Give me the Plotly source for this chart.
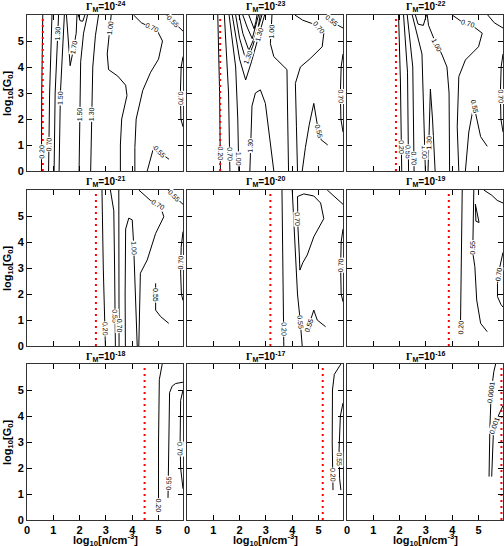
"""Contour grid: 3x3 panels of log10[G0] vs log10[n/cm^-3] for several Gamma_M"""

import numpy as np
import plotly.graph_objects as go

# Gamma_M exponent of each panel and position of the red dotted line
gamma_exp = [-24, -23, -22, -21, -20, -19, -18, -17, -16]
red_x = [0.60, 1.26, 1.86, 2.62, 3.17, 3.87, 4.47, 5.16, 5.87]

x_ticks = [0, 1, 2, 3, 4, 5]
y_ticks = [0, 1, 2, 3, 4, 5]

# contour lines per panel: (label, x values, y values, label positions along the line)
g24_lines = [
    ("0.20", [0.55, 0.56, 0.60], [0, 3, 6], [0.12]),
    ("0.70", [0.82, 0.86, 0.95], [0, 3, 6], [0.17]),
    ("1.30", [1.03, 1.07, 1.20], [0, 3, 6], [0.88]),
    ("1.50", [1.22, 1.27, 1.42], [0, 3, 6], [0.47]),
    ("1.70", [1.50, 1.56, 1.64, 1.75, 1.87, 1.90], [6, 5, 4.05, 4.6, 5.3, 6], [0.68]),
    ("1.70", [1.95, 2.02, 2.12, 2.20], [6, 5.78, 5.76, 6], []),
    ("1.50", [1.98, 2.00, 2.04, 2.15, 2.30], [0, 2, 4.2, 5.3, 6], [0.36]),
    ("1.30", [2.42, 2.45, 2.50, 2.60, 2.72], [0, 2, 4, 5.2, 6], [0.36]),
    ("1.00", [3.20, 3.12, 3.05, 3.10, 3.45, 3.75, 3.80, 3.60, 3.55, 3.55],
     [6, 5.3, 4.5, 3.9, 3.65, 3.3, 2.9, 2.0, 1.0, 0], [0.08]),
    ("0.70", [4.05, 4.35, 4.65, 4.95, 5.15, 5.00, 4.70, 4.40, 4.15, 4.10, 4.10],
     [6, 5.7, 5.55, 5.4, 5.0, 4.3, 3.8, 3.1, 2.0, 0.9, 0], [0.13]),
    ("0.55", [5.30, 5.55, 5.80, 5.93], [6, 5.75, 5.5, 5.38], [0.4]),
    ("0.55", [4.57, 4.70, 4.82, 5.00, 5.20, 5.40], [0, 0.5, 0.93, 0.8, 0.6, 0.45], [0.72]),
    ("0.70", [5.93, 5.86, 5.83, 5.85, 5.93], [4.4, 4.0, 3.0, 2.0, 1.7], [0.6]),
]

g23_lines = [
    ("0.20", [1.27, 1.24, 1.17], [0, 3, 6], [0.11]),
    ("0.70", [1.63, 1.58, 1.42], [0, 3, 6], [0.11]),
    ("1.00", [1.97, 1.93, 1.85, 1.70, 1.60], [0, 2, 4, 5.2, 6], [0.08]),
    ("1.30", [1.72, 1.85, 2.00, 2.23, 2.45, 2.70, 2.95], [6, 5.2, 4.3, 3.5, 4.2, 5.1, 6], [0.85]),
    ("1.30", [1.85, 2.00, 2.26, 2.50, 2.70, 2.85], [6, 5.1, 4.19, 4.8, 5.5, 6], [0.55]),
    ("1.70", [1.98, 2.12, 2.35, 2.55, 2.72, 2.78], [6, 5.3, 4.64, 5.1, 5.6, 6], []),
    ("1.90", [2.12, 2.30, 2.48, 2.60, 2.72], [6, 5.5, 5.09, 5.5, 6], []),
    ("2.10", [2.35, 2.45, 2.55, 2.62, 2.66], [6, 5.7, 5.47, 5.75, 6], []),
    ("1.00", [3.23, 3.20, 3.17, 3.30, 3.60, 3.80, 3.82, 3.86],
     [6, 5.3, 4.9, 4.4, 4.1, 3.9, 2.5, 0], [0.1]),
    ("1.30", [2.39, 2.42, 2.47, 2.60, 2.79, 2.98, 3.10, 3.20, 3.30],
     [0, 1, 2.5, 3.0, 3.12, 2.6, 1.6, 0.9, 0], [0.15]),
    ("0.70", [4.10, 4.40, 4.95, 5.20, 5.14, 4.69, 4.31, 4.12, 4.16, 4.20],
     [6, 5.8, 5.6, 5.3, 4.78, 4.33, 4.0, 3.37, 1.7, 0], [0.15]),
    ("0.55", [4.38, 4.50, 4.65, 4.82, 4.95, 5.10, 5.35], [0, 0.9, 1.8, 2.6, 1.8, 1.2, 1.0], [0.85]),
    ("0.55", [5.30, 5.50, 5.75, 5.93], [6, 5.8, 5.6, 5.5], [0.35]),
    ("0.70", [5.93, 5.86, 5.83, 5.85, 5.93], [4.5, 4.0, 3.0, 2.0, 1.5], [0.55]),
]

g22_lines = [
    ("0.20", [1.96, 2.03, 2.08], [6, 3.5, 0], [0.85]),
    ("0.55", [2.15, 2.30, 2.34], [6, 3.8, 0], [0.88]),
    ("0.70", [2.29, 2.50, 2.55], [6, 4, 0], [0.92]),
    ("1.00", [2.48, 2.85, 2.98], [6, 4.5, 0], [0.88]),
    ("1.30", [2.60, 2.70, 2.90, 3.02], [6, 5.65, 5.6, 6], []),
    ("1.30", [3.08, 3.12, 3.17, 3.25, 3.35], [0, 2, 3.15, 2, 0], [0.17]),
    ("1.00", [3.05, 3.10, 3.30, 3.60, 3.80, 3.88, 3.90], [6, 5.6, 5.1, 4.5, 4.0, 3, 0], [0.2]),
    ("0.70", [4.00, 4.35, 4.69, 5.14, 5.00, 4.50, 4.25, 4.19, 4.25],
     [6, 5.75, 5.65, 5.3, 4.78, 4.27, 3.63, 1.7, 0], [0.1]),
    ("0.55", [4.50, 4.63, 4.82, 4.95, 5.08, 5.33], [0, 1.5, 2.54, 1.9, 1.32, 0.95], [0.62]),
    ("0.55", [5.35, 5.60, 5.93], [6, 5.7, 5.5], []),
    ("0.70", [5.93, 5.86, 5.83, 5.85, 5.93], [4.5, 4.0, 3.0, 2.0, 1.5], [0.55]),
]

g21_lines = [
    ("0.20", [2.85, 2.90, 2.98], [6, 3, 0], [0.89]),
    ("0.55", [3.17, 3.30, 3.33, 3.36], [6, 5.2, 3, 0], [0.81]),
    ("0.70", [3.49, 3.50, 3.50], [6, 3, 0], [0.87]),
    ("1.00", [3.74, 3.73, 3.75, 3.87, 4.00, 4.05, 4.12, 4.19],
     [0, 2, 4.5, 4.92, 4.85, 4.0, 2, 0], [0.62]),
    ("0.70", [4.25, 4.31, 4.57, 4.89, 5.20, 5.08, 4.69, 4.25],
     [0, 2.8, 3.31, 4.33, 4.97, 5.36, 5.6, 6], [0.86]),
    ("0.55", [5.35, 5.55, 5.75, 5.93], [6, 5.8, 5.6, 5.45], [0.4]),
    ("0.55", [4.89, 4.89, 5.08, 5.39], [2.41, 1.38, 1.13, 0.87], [0.25]),
    ("0.70", [5.93, 5.86, 5.84, 5.87, 5.93], [4.4, 3.8, 2.8, 2.0, 1.75], [0.45]),
]

g20_lines = [
    ("0.20", [3.61, 3.65, 3.68], [6, 3, 0], [0.89]),
    ("0.55", [4.00, 4.10, 4.20, 4.30, 4.38], [6, 4, 2, 1, 0], [0.85]),
    ("0.70", [4.20, 4.22, 4.27, 4.29, 4.40, 4.57, 4.82, 5.20, 5.08, 4.82, 4.44, 4.20],
     [5.75, 4.5, 3.5, 2.92, 3.2, 3.5, 4.2, 4.9, 5.5, 5.77, 5.85, 5.75], [0.13]),
    ("0.55", [4.55, 4.70, 4.82, 4.95, 5.27], [0.55, 1.0, 1.38, 1.0, 0.74], [0.15]),
    ("0.55", [5.33, 5.60, 5.84, 5.93], [6, 5.75, 5.5, 5.45], []),
    ("0.70", [5.93, 5.86, 5.84, 5.86, 5.93], [4.5, 4.0, 3.0, 2.0, 1.7], [0.5]),
]

g19_lines = [
    ("0.20", [4.38, 4.34, 4.31], [6, 3, 0.45], [0.95]),
    ("0.55", [4.82, 4.80, 4.78, 4.86, 4.90, 4.93, 5.08, 5.33],
     [6, 4.5, 3.6, 3.05, 2.4, 1.77, 0.87, 0.55], [0.4]),
    ("0.55", [4.88, 4.90, 5.02, 4.88], [5.45, 4.8, 4.75, 5.45], []),
    ("0.70", [5.20, 5.50, 5.71, 5.93], [6, 5.8, 5.6, 5.5], []),
    ("0.70", [5.93, 5.80, 5.72, 5.72, 5.85, 5.93], [3.6, 3.0, 2.4, 1.9, 1.6, 1.5], [0.4]),
]

g18_lines = [
    ("0.20", [5.14, 5.03, 5.00, 5.00], [6, 5.4, 3, 0.35], [0.96]),
    ("0.55", [5.36, 5.38, 5.42, 5.52, 5.65, 5.93], [0.85, 3, 4.9, 5.15, 5.25, 5.3], [0.12]),
    ("0.70", [5.93, 5.84, 5.82, 5.84, 5.93], [5.0, 4.6, 3, 2, 1.2], [0.6]),
]

g17_lines = [
    ("0.20", [5.85, 5.60, 5.53, 5.52, 5.55], [6, 5.6, 5.0, 3.0, 1.15], [0.88]),
    ("0.55", [5.93, 5.83, 5.78, 5.80, 5.85], [4.5, 4.0, 2.7, 1.6, 1.15], [0.65]),
]

g16_lines = [
    ("0.0001", [5.65, 5.58, 5.48, 5.43, 5.40], [6, 5.7, 4.9, 3.5, 1.67], [0.25]),
    ("0.001", [5.93, 5.75, 5.57, 5.52, 5.50], [4.4, 4.0, 3.5, 2.5, 1.67], [0.3]),
]

panels = [g24_lines, g23_lines, g22_lines, g21_lines, g20_lines,
          g19_lines, g18_lines, g17_lines, g16_lines]

W, H = 504, 546
col_px = [(27, 183), (187, 343), (347, 503)]
row_px = [(15, 171), (190, 346), (364, 520)]
x_max, y_max = 5.93, 6.0
sx = 156 / x_max
sy = 156 / y_max


def label_at(xs, ys, t):
    # point and text angle at fraction t of the line length (in pixels)
    px = np.array(xs) * sx
    py = -np.array(ys) * sy
    seg = np.hypot(np.diff(px), np.diff(py))
    cum = np.concatenate([[0], np.cumsum(seg)])
    s = t * cum[-1]
    k = min(np.searchsorted(cum, s, side='right') - 1, len(seg) - 1)
    f = (s - cum[k]) / seg[k] if seg[k] > 0 else 0
    x = xs[k] + f * (xs[k + 1] - xs[k])
    y = ys[k] + f * (ys[k + 1] - ys[k])
    ang = np.degrees(np.arctan2(py[k + 1] - py[k], px[k + 1] - px[k]))
    if ang > 90:
        ang -= 180
    if ang <= -90:
        ang += 180
    return float(x), float(y), float(ang)


fig = go.Figure()
annotations = []
font_b = dict(family='Liberation Sans', size=11, color='black', weight='bold')

for i in range(9):
    r, c = divmod(i, 3)
    n = '' if i == 0 else str(i + 1)
    xa, ya = 'x' + n, 'y' + n

    for lvl, xs, ys, ts in panels[i]:
        fig.add_trace(go.Scatter(x=xs, y=ys, mode='lines', showlegend=False,
                                 line=dict(color='black', width=1),
                                 xaxis=xa, yaxis=ya, hoverinfo='skip'))
        for t in ts:
            lx, ly, ang = label_at(xs, ys, t)
            annotations.append(dict(x=lx, y=ly, xref=xa, yref=ya, text=lvl,
                                    xanchor='center', yanchor='middle',
                                    showarrow=False, textangle=ang,
                                    font=dict(family='Liberation Sans', size=7, color='black'),
                                    bgcolor='white', borderpad=0))

    fig.add_trace(go.Scatter(x=[red_x[i], red_x[i]], y=[0, y_max], mode='lines',
                             showlegend=False, hoverinfo='skip',
                             line=dict(color='red', width=2, dash='2px,4px'),
                             xaxis=xa, yaxis=ya))

    x0, x1 = col_px[c]
    y0, y1 = row_px[r]
    axis_common = dict(ticks='inside', ticklen=5, tickwidth=1, tickcolor='black',
                       mirror='ticks', showline=True, linecolor='#333333', linewidth=1,
                       showgrid=False, zeroline=False, tickfont=font_b, automargin=False)
    fig.layout['xaxis' + n] = dict(axis_common, domain=[x0 / W, x1 / W], range=[0, x_max],
                                   tickvals=x_ticks, showticklabels=(r == 2), anchor=ya)
    fig.layout['yaxis' + n] = dict(axis_common, domain=[1 - y1 / H, 1 - y0 / H], range=[0, y_max],
                                   tickvals=y_ticks, showticklabels=(c == 0), anchor=xa)

    # panel title
    annotations.append(dict(
        x=(x0 + x1) / 2 / W, y=1 - (y0 - 8) / H, xref='paper', yref='paper',
        xanchor='center', yanchor='middle',
        text="<b><span style=\"font-family:'Liberation Serif'\">Γ</span><sub>M</sub>=10<sup>%d</sup></b>" % gamma_exp[i],
        showarrow=False, font=dict(family='Liberation Sans', size=10, color='black')))

    if c == 0:
        annotations.append(dict(
            x=8 / W, y=1 - (y0 + y1) / 2 / H, xref='paper', yref='paper',
            xanchor='center', yanchor='middle',
            text='<b>log<sub>10</sub>[G<sub>0</sub>]</b>', textangle=-90, showarrow=False,
            font=dict(family='Liberation Sans', size=11, color='black')))
    if r == 2:
        annotations.append(dict(
            x=(x0 + x1) / 2 / W, y=1 - 540 / H, xref='paper', yref='paper',
            xanchor='center', yanchor='middle',
            text='<b>log<sub>10</sub>[n/cm<sup>-3</sup>]</b>', showarrow=False,
            font=dict(family='Liberation Sans', size=11, color='black')))

fig.update_layout(
    width=W, height=H,
    margin=dict(l=0, r=0, t=0, b=0, autoexpand=False),
    plot_bgcolor='white', paper_bgcolor='white',
    showlegend=False,
    annotations=annotations,
)

# page body has a default margin; remove it so the figure sits at the window corner
fig.write_html("out.html", config={'displayModeBar': False},
               post_script="document.body.style.margin='0';")
